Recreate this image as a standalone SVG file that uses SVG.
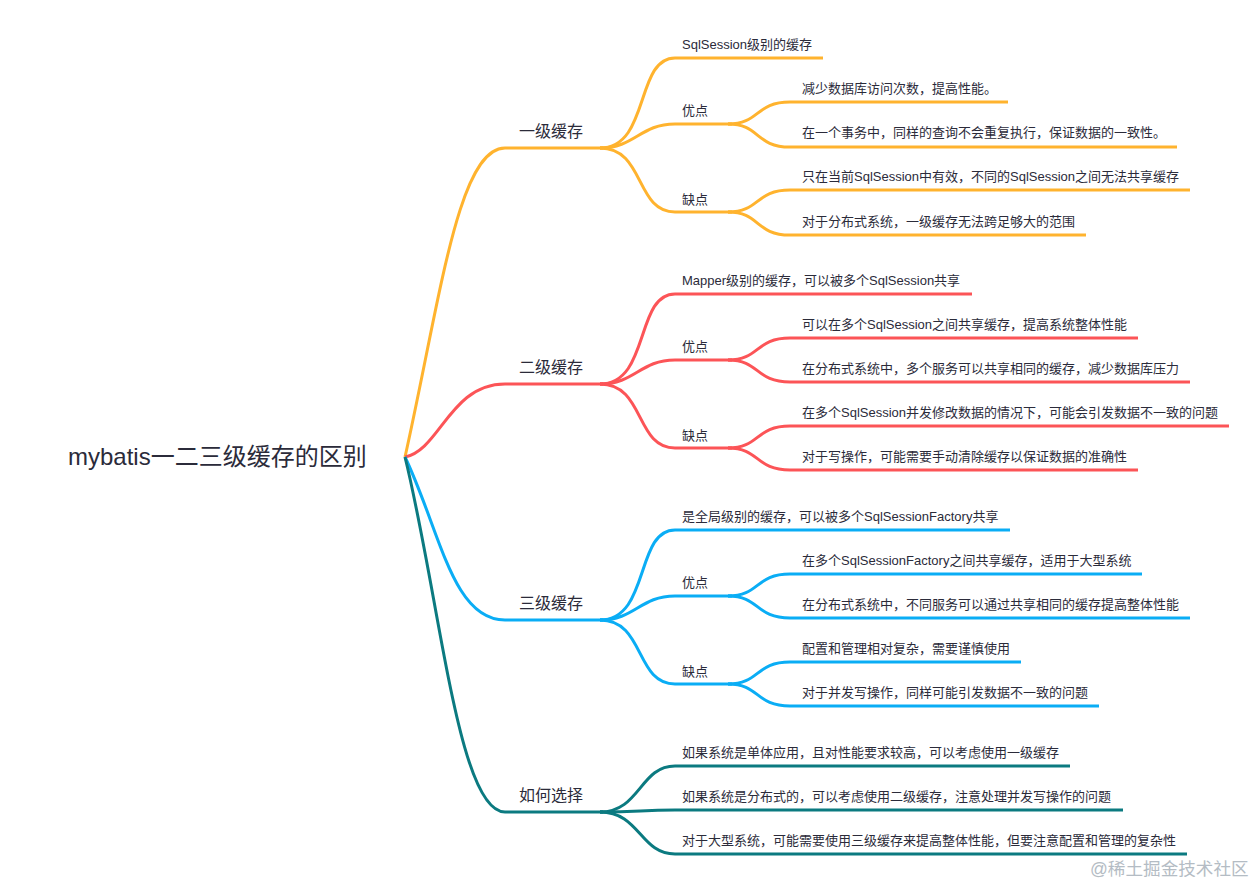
<svg xmlns="http://www.w3.org/2000/svg" width="1257" height="886" viewBox="0 0 1257 886">
<style>
text{font-family:"Liberation Sans","Noto Sans CJK SC",sans-serif;fill:#2b2b3a}
.t3{font-size:13px}
.t1{font-size:16px}
.t0{font-size:24px}
.wm{font-size:17.6px;fill:#b4bcc4}
path{fill:none;stroke-width:3;stroke-linecap:butt}
.y path{stroke:#ffb32e}
.r path{stroke:#fc5457}
.b path{stroke:#0aadf5}
.g path{stroke:#0b7a80}
</style>
<rect width="1257" height="886" fill="#fff"/>
<g id="connectors">
<g class="y">
<path d="M405 457C440 300 458 148 505 148H603"/>
<path d="M600 148C650 148 635 58 675 58H823"/>
<path d="M600 148C635 148 640 124 675 124H732"/>
<path d="M600 148C645 148 635 212 675 212H732"/>
<path d="M728 124C760 124 755 102 790 102H1008"/>
<path d="M728 124C760 124 755 147 790 147H1177"/>
<path d="M728 212C760 212 755 190 790 190H1190"/>
<path d="M728 212C760 212 755 235 790 235H1086"/>
</g>
<g class="r">
<path d="M405 457C440 450 450 384 505 384H603"/>
<path d="M600 384C650 384 635 294 675 294H972"/>
<path d="M600 384C635 384 640 360 675 360H732"/>
<path d="M600 384C645 384 635 448 675 448H732"/>
<path d="M728 360C760 360 755 338 790 338H1138"/>
<path d="M728 360C760 360 755 382 790 382H1190"/>
<path d="M728 448C760 448 755 426 790 426H1229"/>
<path d="M728 448C760 448 755 470 790 470H1138"/>
</g>
<g class="b">
<path d="M405 457C440 530 452 620 505 620H603"/>
<path d="M600 620C650 620 635 530 675 530H1010"/>
<path d="M600 620C635 620 640 596 675 596H732"/>
<path d="M600 620C645 620 635 684 675 684H732"/>
<path d="M728 596C760 596 755 574 790 574H1142"/>
<path d="M728 596C760 596 755 618 790 618H1190"/>
<path d="M728 684C760 684 755 662 790 662H1021"/>
<path d="M728 684C760 684 755 706 790 706H1099"/>
</g>
<g class="g">
<path d="M405 457C440 600 458 812 505 812H603"/>
<path d="M600 812C640 812 640 766 675 766H1070"/>
<path d="M600 812C640 812 640 810 675 810H1123"/>
<path d="M600 812C640 812 640 854 675 854H1187"/>
</g>
</g>
<g id="root"><text class="t0" x="68" y="465">mybatis一二三级缓存的区别</text></g>
<g id="n1"><text class="t1" x="519" y="137">一级缓存</text></g>
<g id="n1-1"><text class="t3" x="682" y="49">SqlSession级别的缓存</text></g>
<g id="n1-2"><text class="t3" x="682" y="115">优点</text></g>
<g id="n1-2-1"><text class="t3" x="802" y="93">减少数据库访问次数，提高性能。</text></g>
<g id="n1-2-2"><text class="t3" x="802" y="137">在一个事务中，同样的查询不会重复执行，保证数据的一致性。</text></g>
<g id="n1-3"><text class="t3" x="682" y="204">缺点</text></g>
<g id="n1-3-1"><text class="t3" x="802" y="181">只在当前SqlSession中有效，不同的SqlSession之间无法共享缓存</text></g>
<g id="n1-3-2"><text class="t3" x="802" y="226">对于分布式系统，一级缓存无法跨足够大的范围</text></g>
<g id="n2"><text class="t1" x="519" y="373">二级缓存</text></g>
<g id="n2-1"><text class="t3" x="682" y="285">Mapper级别的缓存，可以被多个SqlSession共享</text></g>
<g id="n2-2"><text class="t3" x="682" y="351">优点</text></g>
<g id="n2-2-1"><text class="t3" x="802" y="329">可以在多个SqlSession之间共享缓存，提高系统整体性能</text></g>
<g id="n2-2-2"><text class="t3" x="802" y="373">在分布式系统中，多个服务可以共享相同的缓存，减少数据库压力</text></g>
<g id="n2-3"><text class="t3" x="682" y="440">缺点</text></g>
<g id="n2-3-1"><text class="t3" x="802" y="417">在多个SqlSession并发修改数据的情况下，可能会引发数据不一致的问题</text></g>
<g id="n2-3-2"><text class="t3" x="802" y="461">对于写操作，可能需要手动清除缓存以保证数据的准确性</text></g>
<g id="n3"><text class="t1" x="519" y="609">三级缓存</text></g>
<g id="n3-1"><text class="t3" x="682" y="521">是全局级别的缓存，可以被多个SqlSessionFactory共享</text></g>
<g id="n3-2"><text class="t3" x="682" y="587">优点</text></g>
<g id="n3-2-1"><text class="t3" x="802" y="565">在多个SqlSessionFactory之间共享缓存，适用于大型系统</text></g>
<g id="n3-2-2"><text class="t3" x="802" y="609">在分布式系统中，不同服务可以通过共享相同的缓存提高整体性能</text></g>
<g id="n3-3"><text class="t3" x="682" y="676">缺点</text></g>
<g id="n3-3-1"><text class="t3" x="802" y="653">配置和管理相对复杂，需要谨慎使用</text></g>
<g id="n3-3-2"><text class="t3" x="802" y="697">对于并发写操作，同样可能引发数据不一致的问题</text></g>
<g id="n4"><text class="t1" x="519" y="801">如何选择</text></g>
<g id="n4-1"><text class="t3" x="682" y="757">如果系统是单体应用，且对性能要求较高，可以考虑使用一级缓存</text></g>
<g id="n4-2"><text class="t3" x="682" y="801">如果系统是分布式的，可以考虑使用二级缓存，注意处理并发写操作的问题</text></g>
<g id="n4-3"><text class="t3" x="682" y="845">对于大型系统，可能需要使用三级缓存来提高整体性能，但要注意配置和管理的复杂性</text></g>
<g id="watermark"><text class="wm" x="1090" y="875">@稀土掘金技术社区</text></g>
</svg>
